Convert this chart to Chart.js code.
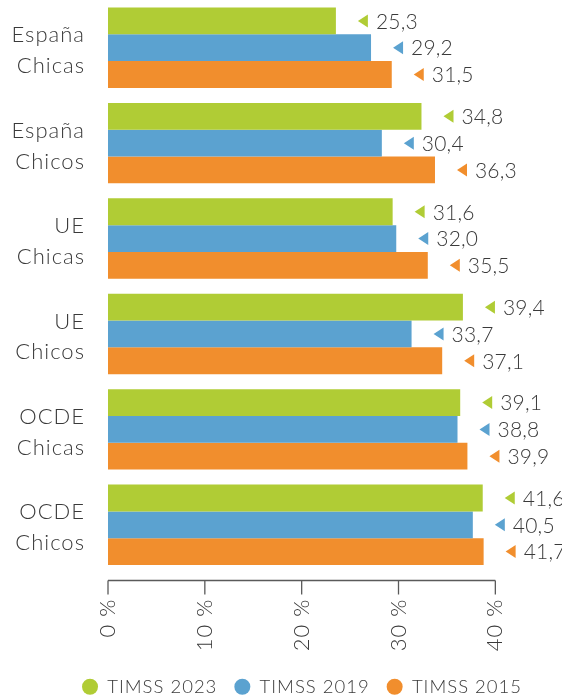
<!DOCTYPE html>
<html>
<head>
<meta charset="utf-8">
<script src="https://cdn.jsdelivr.net/npm/chart.js@4"></script>
<style>
  html, body { margin: 0; padding: 0; background: #fff; }
  #wrap { width: 562px; height: 697px; }
</style>
</head>
<body>
<div id="wrap"><canvas id="chart"></canvas></div>
<script>
const CATEGORIES = [['España', 'Chicas'], ['España', 'Chicos'], ['UE', 'Chicas'], ['UE', 'Chicos'], ['OCDE', 'Chicas'], ['OCDE', 'Chicos']];
const SERIES_NAMES = ['TIMSS 2023', 'TIMSS 2019', 'TIMSS 2015'];
const TIMSS_2023 = [25.3, 34.8, 31.6, 39.4, 39.1, 41.6];
const TIMSS_2019 = [29.2, 30.4, 32.0, 33.7, 38.8, 40.5];
const TIMSS_2015 = [31.5, 36.3, 35.5, 37.1, 39.9, 41.7];
const TICK_LABELS = ['0 %', '10 %', '20 %', '30 %', '40 %'];
const COLORS = ['#b0cc35', '#5ba2d0', '#f18e2d'];

const FONT = 'Lato';
const WEIGHT = 300;
const TEXT = '#3a3a3a';
const AXIS_END = 43;     // the "40 %" tick sits at this scale value
const X_MAX = 50.4;      // leaves room on the right for the value labels

// the original type is a wide light face, so open the letters up a little
const spacing = {
    id: 'spacing',
    beforeLayout(chart) { chart.ctx.letterSpacing = '1px'; },
    beforeDraw(chart) { chart.ctx.letterSpacing = '1px'; },
    // centre the legend row under the plot like the original
    afterLayout(chart) { chart.legend.left += 42; }
};

// small left-pointing marker + value next to each bar
const valueLabels = {
    id: 'valueLabels',
    afterDatasetsDraw(chart) {
        const ctx = chart.ctx;
        ctx.save();
        ctx.font = WEIGHT + ' 21px ' + FONT;
        ctx.letterSpacing = '0.2px';
        ctx.textBaseline = 'middle';
        ctx.textAlign = 'left';
        chart.data.datasets.forEach((ds, i) => {
            chart.getDatasetMeta(i).data.forEach((bar, j) => {
                const x = bar.x, y = bar.y;
                ctx.fillStyle = ds.backgroundColor;
                ctx.beginPath();
                ctx.moveTo(x + 22, y);
                ctx.lineTo(x + 32, y - 6.5);
                ctx.lineTo(x + 32, y + 6.5);
                ctx.closePath();
                ctx.fill();
                ctx.fillStyle = TEXT;
                ctx.fillText(ds.data[j].toFixed(1).replace('.', ','), x + 40, y + 1);
            });
        });
        ctx.restore();
    }
};

// x axis line sits a bit below the plot area, with tick marks hanging down
const axisLine = {
    id: 'axisLine',
    afterDraw(chart) {
        const xs = chart.scales.x;
        const y0 = chart.chartArea.bottom + 8;
        const ctx = chart.ctx;
        ctx.save();
        ctx.strokeStyle = '#5a5a5a';
        ctx.lineWidth = 1.3;
        ctx.beginPath();
        ctx.moveTo(xs.getPixelForValue(0), y0);
        ctx.lineTo(xs.getPixelForValue(AXIS_END), y0);
        xs.ticks.forEach(t => {
            const px = xs.getPixelForValue(t.value);
            ctx.moveTo(px, y0);
            ctx.lineTo(px, y0 + 14);
        });
        ctx.stroke();
        ctx.restore();
    }
};

new Chart(document.getElementById('chart'), {
    type: 'bar',
    data: {
        labels: CATEGORIES,
        datasets: [
            { label: SERIES_NAMES[0], data: TIMSS_2023, backgroundColor: COLORS[0] },
            { label: SERIES_NAMES[1], data: TIMSS_2019, backgroundColor: COLORS[1] },
            { label: SERIES_NAMES[2], data: TIMSS_2015, backgroundColor: COLORS[2] }
        ]
    },
    options: {
        indexAxis: 'y',
        responsive: true,
        maintainAspectRatio: false,
        animation: false,
        datasets: { bar: { categoryPercentage: 0.842, barPercentage: 1, borderWidth: 0 } },
        layout: { padding: { top: 0, right: 0, bottom: -9, left: 0 } },
        scales: {
            x: {
                min: 0,
                max: X_MAX,
                grid: { display: false, drawTicks: false },
                border: { display: false },
                afterBuildTicks: s => {
                    s.ticks = TICK_LABELS.map((_, i) => ({ value: i * AXIS_END / (TICK_LABELS.length - 1) }));
                },
                ticks: {
                    minRotation: 90,
                    maxRotation: 90,
                    autoSkip: false,
                    padding: 26,
                    color: TEXT,
                    font: { family: FONT, size: 22, weight: WEIGHT },
                    callback: (v, i) => TICK_LABELS[i]
                },
                afterFit: s => { s.height = 88; s.paddingLeft = 0; s.paddingRight = 0; }
            },
            y: {
                grid: { display: false, drawTicks: false },
                border: { display: false },
                ticks: {
                    padding: 23,
                    labelOffset: 3,
                    color: TEXT,
                    font: { family: FONT, size: 22, weight: WEIGHT, lineHeight: 1.4 }
                },
                afterFit: s => { s.width = 108; s.paddingTop = 0; s.paddingBottom = 0; }
            }
        },
        plugins: {
            legend: {
                position: 'bottom',
                labels: {
                    usePointStyle: true,
                    pointStyle: 'circle',
                    boxWidth: 16,
                    boxHeight: 11.3,
                    padding: 17,
                    color: TEXT,
                    font: { family: FONT, size: 18.5, weight: WEIGHT }
                }
            },
            tooltip: { enabled: false }
        }
    },
    plugins: [spacing, valueLabels, axisLine]
});
</script>
</body>
</html>
